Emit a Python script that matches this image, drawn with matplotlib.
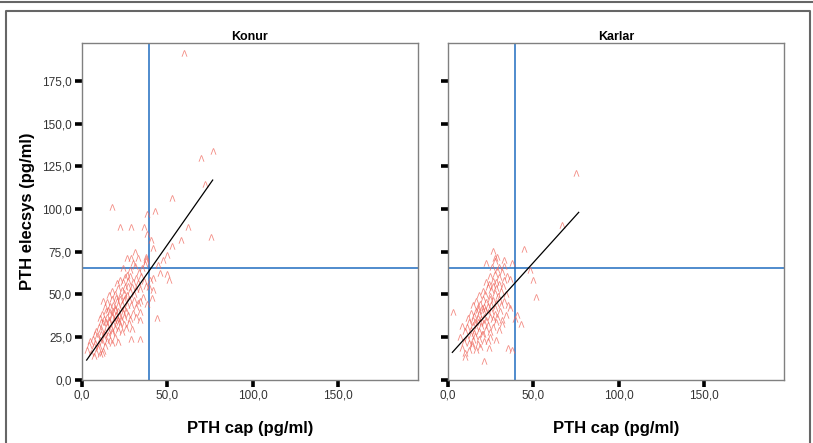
import matplotlib
matplotlib.use('Agg')
import matplotlib.pyplot as plt
import numpy as np
from matplotlib.lines import Line2D
from matplotlib.ticker import FuncFormatter

plt.rcParams['font.family'] = ['Liberation Sans', 'DejaVu Sans']

# panel titles and axis labels
panels = ['Konur', 'Karlar']
x_label = 'PTH cap (pg/ml)'
y_label = 'PTH elecsys (pg/ml)'
x_ticks = [0, 50, 100, 150]
y_ticks = [0, 25, 50, 75, 100, 125, 150, 175]
cut_cap = 39.2       # vertical reference line
cut_elecsys = 65.2   # horizontal reference line

# Konur: (PTH cap, PTH elecsys)
konur_points = np.array([
    (3.0, 17.5), (5.5, 15.5), (7.2, 13.9), (8.5, 16.5), (9.5, 18.5), (10.5, 14.8), (11.7, 15.4),
    (12.5, 17.0), (13.5, 19.5), (7.0, 19.8), (10.0, 20.0), (4.5, 20.5),
    (5.0, 22.5), (6.5, 24.0), (8.0, 21.5), (9.0, 25.5), (10.5, 23.0), (11.0, 26.5), (12.0, 21.8),
    (13.0, 24.5), (14.5, 22.5), (15.5, 26.0), (16.5, 23.5), (18.0, 21.5), (19.5, 25.0), (21.0, 22.0),
    (28.8, 23.8), (34.1, 23.8), (7.5, 26.5), (12.8, 27.0), (17.5, 27.2),
    (8.5, 28.5), (10.0, 31.0), (11.5, 29.5), (12.5, 33.0), (13.5, 28.0), (14.5, 31.5), (15.5, 29.0),
    (16.0, 33.5), (17.0, 30.5), (18.0, 28.5), (18.5, 32.5), (19.5, 30.0), (20.5, 33.5), (21.5, 29.0),
    (22.5, 31.5), (23.5, 28.0), (24.5, 32.5), (26.0, 30.0), (27.5, 33.0), (14.0, 34.0), (11.0, 33.5),
    (29.5, 29.5), (22.0, 34.0),
    (10.5, 36.0), (12.0, 38.5), (13.0, 35.5), (14.0, 40.0), (15.0, 37.0), (16.0, 35.0), (16.5, 39.5),
    (17.5, 36.5), (18.5, 40.5), (19.0, 34.8), (20.0, 38.0), (20.5, 36.0), (21.5, 40.0), (22.0, 37.5),
    (23.0, 35.5), (24.0, 39.0), (25.0, 36.5), (26.0, 40.5), (27.0, 38.0), (28.5, 35.5), (30.0, 39.0),
    (32.0, 37.0), (34.1, 35.0), (34.1, 39.6), (43.9, 36.0), (18.0, 38.0), (21.0, 35.0), (19.5, 41.0),
    (23.5, 41.0), (15.5, 41.0),
    (13.5, 42.5), (15.0, 45.5), (16.5, 43.0), (17.5, 47.0), (18.5, 44.0), (19.5, 42.0), (20.5, 46.0),
    (21.5, 43.5), (22.5, 47.5), (23.5, 44.5), (24.5, 42.0), (25.0, 46.5), (26.5, 43.5), (27.5, 47.0),
    (29.0, 44.0), (30.5, 46.5), (31.5, 42.5), (33.0, 45.0), (38.3, 44.3), (41.1, 47.7), (12.5, 46.0),
    (20.0, 48.0), (25.5, 48.0), (34.1, 46.0),
    (16.0, 49.5), (18.0, 52.0), (19.5, 50.0), (21.0, 53.5), (22.5, 49.0), (23.5, 52.5), (24.5, 50.5),
    (25.5, 54.0), (26.5, 49.5), (28.0, 52.0), (29.5, 54.5), (30.5, 50.0), (32.0, 53.0), (34.1, 53.0),
    (36.0, 48.5), (39.5, 54.5), (41.5, 52.5), (37.5, 55.0), (27.0, 55.0),
    (20.5, 56.5), (22.5, 58.4), (24.0, 57.0), (25.5, 60.0), (27.0, 58.0), (28.5, 61.0), (30.0, 57.5),
    (31.5, 59.5), (33.0, 56.5), (34.5, 60.5), (36.5, 58.0), (40.0, 58.4), (41.9, 59.4), (51.0, 58.4),
    (26.5, 61.5),
    (24.0, 65.2), (28.0, 64.0), (31.0, 66.5), (33.5, 63.0), (35.0, 65.2), (37.0, 67.5), (44.8, 67.2),
    (45.8, 62.7), (50.0, 61.9), (37.4, 69.7), (30.0, 68.5),
    (26.7, 71.1), (28.7, 71.1), (31.2, 74.6), (37.4, 72.0), (37.4, 70.5), (47.4, 70.0), (49.7, 73.0),
    (41.9, 76.9), (52.6, 78.3), (33.0, 71.5),
    (40.4, 81.8), (57.9, 81.8), (75.4, 83.4), (38.4, 85.3), (22.4, 89.6), (28.7, 89.6), (36.6, 89.3),
    (62.3, 89.6), (38.4, 96.8), (42.9, 98.6), (17.9, 101.3), (52.6, 106.6), (72.3, 114.6),
    (69.8, 129.8), (76.6, 134.0), (59.6, 191.4),
])

# Karlar: (PTH cap, PTH elecsys)
karlar_points = np.array([
    (21.4, 11.1), (10.1, 13.5), (10.1, 15.5), (16.5, 17.4), (24.3, 18.4), (35.4, 18.4), (37.4, 17.4),
    (12.5, 17.5), (14.0, 19.5), (8.5, 18.5), (19.0, 19.0),
    (7.2, 25.2), (9.5, 22.0), (11.0, 24.5), (12.5, 21.5), (13.5, 26.0), (15.0, 23.0), (16.0, 25.5),
    (17.5, 21.0), (18.5, 24.0), (20.0, 26.5), (21.0, 22.5), (23.7, 22.5), (25.0, 25.0), (28.5, 23.0),
    (14.0, 21.0),
    (8.2, 31.4), (10.0, 28.5), (11.5, 31.0), (12.5, 33.5), (13.5, 29.0), (14.5, 32.0), (15.5, 27.5),
    (16.5, 30.5), (17.5, 33.5), (18.5, 28.5), (19.5, 31.5), (20.4, 27.0), (21.5, 33.0), (22.5, 29.5),
    (23.5, 32.0), (25.0, 28.0), (26.5, 31.0), (28.0, 33.5), (30.0, 29.0), (42.7, 32.6), (16.0, 34.0),
    (19.0, 34.0), (31.5, 32.5),
    (2.9, 39.8), (12.0, 36.0), (13.5, 39.0), (14.5, 35.0), (15.5, 37.5), (16.5, 40.5), (17.5, 36.0),
    (18.5, 38.5), (19.5, 35.5), (20.5, 40.0), (21.5, 37.0), (22.5, 34.8), (23.5, 39.5), (24.5, 36.5),
    (25.5, 40.5), (26.5, 35.5), (27.5, 38.5), (29.0, 36.5), (30.5, 40.0), (32.0, 35.0), (34.0, 38.0),
    (40.3, 37.9), (39.5, 35.4), (36.4, 41.8), (18.0, 41.0), (22.0, 41.0),
    (14.5, 43.5), (16.5, 46.0), (17.5, 42.5), (19.0, 44.5), (20.5, 47.0), (21.5, 42.5), (22.5, 45.5),
    (23.5, 43.0), (24.5, 47.5), (25.5, 44.0), (26.5, 46.5), (27.5, 42.0), (28.5, 45.0), (30.0, 47.5),
    (31.0, 43.5), (33.0, 46.0), (35.0, 44.0), (20.0, 42.0),
    (18.5, 49.5), (20.5, 52.0), (22.0, 50.0), (23.5, 54.0), (24.5, 49.0), (25.5, 52.5), (26.5, 55.0),
    (27.5, 50.5), (28.5, 53.5), (29.5, 49.0), (31.0, 52.0), (32.5, 55.0), (34.0, 50.0), (51.6, 48.6),
    (24.0, 56.0), (30.0, 56.0),
    (22.5, 57.5), (25.0, 60.5), (26.5, 58.0), (27.5, 62.0), (28.5, 57.0), (30.0, 60.0), (31.5, 63.0),
    (33.0, 58.5), (34.5, 61.0), (36.5, 59.0), (49.7, 58.4), (48.1, 64.2), (29.0, 64.0),
    (22.2, 68.5), (27.7, 69.5), (32.9, 70.0), (37.4, 68.1), (28.6, 72.0), (27.5, 71.0), (30.0, 66.0),
    (33.0, 66.5), (26.0, 66.0),
    (26.7, 75.5), (44.6, 76.3), (66.7, 90.6), (74.9, 120.8),
])

# fitted regression line ends (cap, elecsys)
konur_fit = np.array([(2.9, 11.5), (76.6, 116.9)])
karlar_fit = np.array([(2.7, 16.0), (76.6, 98.0)])

point_color = '#f06a60'
ref_color = '#1f6cc0'

fig = plt.figure(figsize=(8.13, 4.43), dpi=100)

# outer frames like the SPSS output viewer
fig.add_artist(Line2D([0, 1], [0.996, 0.996], transform=fig.transFigure, color='#666666', lw=1.5))
fig.add_artist(Line2D([0.007, 0.007, 0.996, 0.996], [0.0, 0.976, 0.976, 0.0],
                      transform=fig.transFigure, color='#666666', lw=1.5))

fmt = FuncFormatter(lambda v, pos: f'{v:.1f}'.replace('.', ','))

lefts = [0.1005, 0.5507]
for idx, (name, pts, fit) in enumerate(zip(panels, [konur_points, karlar_points], [konur_fit, karlar_fit])):
    ax = fig.add_axes([lefts[idx], 0.1429, 0.4137, 0.7594])
    ax.set_xlim(0, 196.7)
    ax.set_ylim(0, 197)

    ax.axvline(cut_cap, color=ref_color, lw=1.1, zorder=1)
    ax.axhline(cut_elecsys, color=ref_color, lw=1.1, zorder=1)
    ax.scatter(pts[:, 0], pts[:, 1], marker=r'$\Lambda$', s=21, color=point_color,
               linewidths=0, alpha=0.8, zorder=2)
    ax.plot(fit[:, 0], fit[:, 1], color='black', lw=0.9, zorder=3)

    ax.set_xticks(x_ticks)
    ax.set_yticks(y_ticks)
    ax.xaxis.set_major_formatter(fmt)
    ax.yaxis.set_major_formatter(fmt)
    ax.tick_params(direction='out', length=5, width=2.6, color='black',
                   labelsize=8.5, labelcolor='#333333', pad=2)
    if idx == 1:
        ax.tick_params(axis='y', labelleft=False)
    else:
        ax.set_ylabel(y_label, fontsize=12, fontweight='bold', labelpad=5)

    for sp in ax.spines.values():
        sp.set_color('#808080')
        sp.set_linewidth(1.0)

    ax.set_title(name, fontsize=9, fontweight='bold', pad=2)
    ax.set_xlabel(x_label, fontsize=12, fontweight='bold', labelpad=14)

fig.savefig('out.png', dpi=100)
plt.close(fig)
